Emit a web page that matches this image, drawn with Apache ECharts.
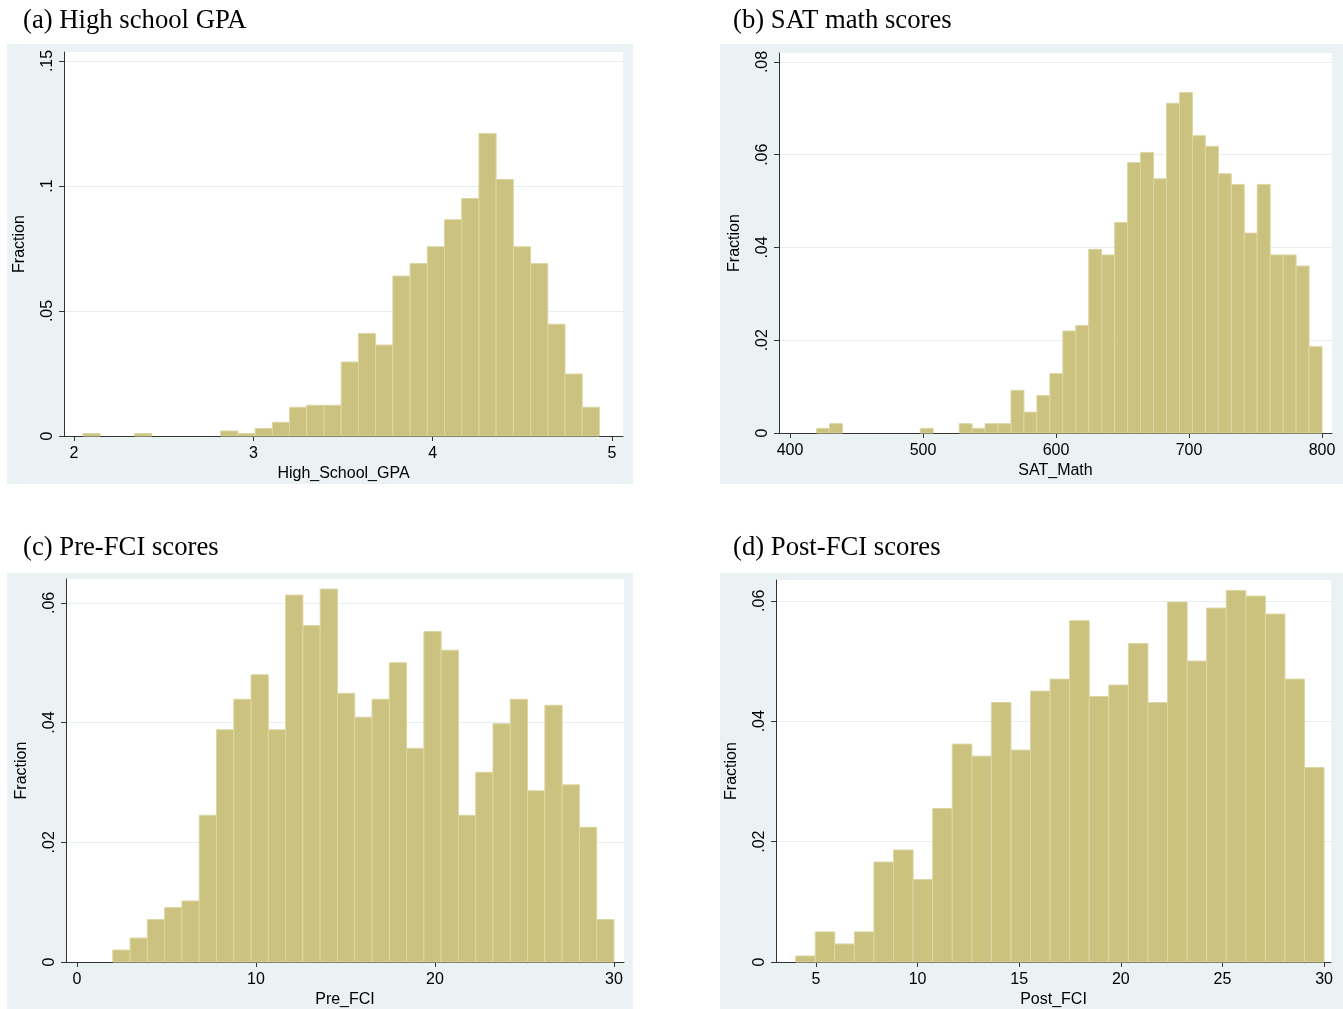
<!DOCTYPE html>
<html>
<head>
<meta charset="utf-8">
<script src="https://cdn.jsdelivr.net/npm/echarts@6/dist/echarts.min.js"></script>
<style>html,body{margin:0;padding:0;background:#fff;}#c{width:1343px;height:1009px;}</style>
</head>
<body>
<div id="c"></div>
<script>
// ---- Data (fractions) ----
const gpaStart = 2.05, gpaWidth = 0.096;
const gpaFrac = [0.001,0,0,0.001,0,0,0,0,0.002,0.001,0.003,0.0055,0.0115,0.0123,0.0123,0.0296,0.041,0.0364,0.064,0.069,0.0757,0.0865,0.095,0.121,0.1026,0.0757,0.069,0.0447,0.0248,0.0115];

const satStart = 420, satWidth = 380/39;
const satFrac = [0.001,0.002,0,0,0,0,0,0,0.001,0,0,0.002,0.001,0.002,0.002,0.0092,0.0045,0.0081,0.0128,0.022,0.0232,0.0396,0.0384,0.0454,0.0583,0.0605,0.0548,0.0711,0.0734,0.0641,0.0618,0.0559,0.0536,0.0431,0.0536,0.0384,0.0384,0.036,0.0186];

const preStart = 2, preWidth = 28/29;
const preFrac = [0.002,0.004,0.0071,0.0091,0.0102,0.0245,0.0388,0.0439,0.048,0.0388,0.0613,0.0562,0.0623,0.0449,0.0409,0.0439,0.05,0.0357,0.0552,0.0521,0.0245,0.0317,0.0398,0.0439,0.0286,0.0429,0.0296,0.0225,0.0071];

const postStart = 4, postWidth = 26/27;
const postFrac = [0.001,0.005,0.003,0.005,0.0166,0.0186,0.0137,0.0255,0.0362,0.0342,0.0431,0.0352,0.045,0.047,0.0567,0.0441,0.046,0.0529,0.0431,0.0598,0.05,0.0588,0.0617,0.0608,0.0578,0.047,0.0323];

// ---- Tick values / labels ----
const xTicksA = [2,3,4,5], xLabelsA = ['2','3','4','5'];
const xTicksB = [400,500,600,700,800], xLabelsB = ['400','500','600','700','800'];
const xTicksC = [0,10,20,30], xLabelsC = ['0','10','20','30'];
const xTicksD = [5,10,15,20,25,30], xLabelsD = ['5','10','15','20','25','30'];
const yTicksA = [0,0.05,0.1,0.15], yLabelsA = ['0','.05','.1','.15'];
const yTicksB = [0,0.02,0.04,0.06,0.08], yLabelsB = ['0','.02','.04','.06','.08'];
const yTicksC = [0,0.02,0.04,0.06], yLabelsC = ['0','.02','.04','.06'];
const yTicksD = [0,0.02,0.04,0.06], yLabelsD = ['0','.02','.04','.06'];

const titles = ['(a) High school GPA','(b) SAT math scores','(c) Pre-FCI scores','(d) Post-FCI scores'];
const xNames = ['High_School_GPA','SAT_Math','Pre_FCI','Post_FCI'];

function bins(start, width, frac){
  return frac.map((f,i)=>[start+i*width, start+(i+1)*width, f]);
}

const panels = [
  {grid:{left:64,top:52,width:559,height:384}, xmin:1.9442, xmax:5.0614, ymax:0.1536, xt:xTicksA, xl:xLabelsA, yt:yTicksA, yl:yLabelsA, data:bins(gpaStart,gpaWidth,gpaFrac)},
  {grid:{left:779,top:53,width:553,height:380}, xmin:391.73, xmax:807.5, ymax:0.08194, xt:xTicksB, xl:xLabelsB, yt:yTicksB, yl:yLabelsB, data:bins(satStart,satWidth,satFrac)},
  {grid:{left:66,top:579,width:558,height:385}, xmin:-0.6145, xmax:30.56, ymax:0.06399, xt:xTicksC, xl:xLabelsC, yt:yTicksC, yl:yLabelsC, data:bins(preStart,preWidth,preFrac)},
  {grid:{left:776,top:580,width:555,height:385}, xmin:3.0315, xmax:30.34, ymax:0.06346, xt:xTicksD, xl:xLabelsD, yt:yTicksD, yl:yLabelsD, data:bins(postStart,postWidth,postFrac)}
];

const titlePos = [{left:23,top:7},{left:733,top:7},{left:23,top:534},{left:733,top:534}];
const bgRects = [[7,44,626,440],[720,44,623,440],[7,573,626,436],[720,573,623,436]];

const axisColor = '#333';
const labelFont = {fontFamily:'Liberation Sans, Arial, sans-serif', fontSize:16, color:'#000'};

function lookup(ticks, labels, v){
  for (let i=0;i<ticks.length;i++){ if (Math.abs(ticks[i]-v) < 1e-9) return labels[i]; }
  return '';
}

const option = {
  backgroundColor:'#fff',
  animation:false,
  title: titles.map((t,i)=>({text:t, left:titlePos[i].left, top:titlePos[i].top, padding:0,
    textStyle:{fontFamily:'Liberation Serif, Times New Roman, serif', fontSize:26.7, fontWeight:'normal', color:'#000'}})),
  graphic: bgRects.map(r=>({type:'rect', z:-100, silent:true, shape:{x:r[0],y:r[1],width:r[2],height:r[3]}, style:{fill:'#eaf2f3'}})),
  grid: panels.map(p=>Object.assign({show:true, backgroundColor:'#fff', borderWidth:0}, p.grid)),
  xAxis: panels.map((p,i)=>({
    type:'value', gridIndex:i, min:p.xmin, max:p.xmax,
    name:xNames[i], nameLocation:'middle', nameGap:30,
    nameTextStyle:labelFont,
    axisLine:{show:true, onZero:false, lineStyle:{color:axisColor, width:1}},
    axisTick:{show:true, length:5, inside:false, customValues:p.xt, lineStyle:{color:axisColor}},
    axisLabel:Object.assign({show:true, margin:10, customValues:p.xt, formatter:v=>lookup(p.xt,p.xl,v)}, labelFont),
    splitLine:{show:false}
  })),
  yAxis: panels.map((p,i)=>({
    type:'value', gridIndex:i, min:0, max:p.ymax,
    name:'Fraction', nameLocation:'middle', nameGap:36,
    nameTextStyle:labelFont,
    axisLine:{show:true, onZero:false, lineStyle:{color:axisColor, width:1}},
    axisTick:{show:true, length:5, inside:false, customValues:p.yt, lineStyle:{color:axisColor}},
    axisLabel:Object.assign({show:true, rotate:90, margin:8, customValues:p.yt, formatter:v=>lookup(p.yt,p.yl,v)}, labelFont),
    splitLine:{show:true, lineStyle:{color:'#e6eef0', width:1.2}}
  })),
  series: panels.map((p,i)=>({
    type:'custom', xAxisIndex:i, yAxisIndex:i,
    data:p.data,
    encode:{x:[0,1], y:2},
    renderItem:function(params, api){
      const x0 = api.value(0), x1 = api.value(1), h = api.value(2);
      if (!(h > 0)) return null;
      const a = api.coord([x0, 0]);
      const b = api.coord([x1, h]);
      return {type:'rect', shape:{x:a[0], y:b[1], width:b[0]-a[0], height:a[1]-b[1]},
        style:{fill:'#cac27e', stroke:'#dcd6a2', lineWidth:1}};
    }
  }))
};

const chart = echarts.init(document.getElementById('c'), null, {renderer:'canvas'});
chart.setOption(option);
</script>
</body>
</html>
